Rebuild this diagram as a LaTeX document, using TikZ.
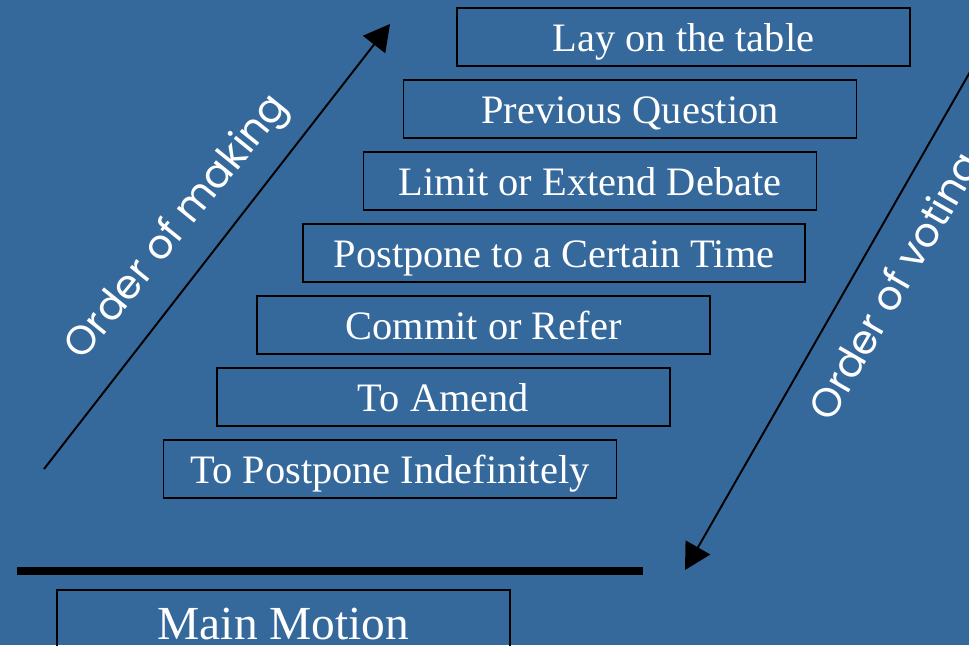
\documentclass[tikz,border=0pt]{standalone}
\usepackage{fontspec}
\setmainfont{Liberation Serif}
\newfontfamily\gothic{Poppins}
\usepackage{tikz}
\usetikzlibrary{arrows.meta, positioning}
\definecolor{slideblue}{RGB}{53, 104, 155}

\begin{document}
\begin{tikzpicture}[
  x=0.02cm, y=-0.02cm,
  motion/.style={rectangle, draw=black, line width=0.9pt, text=white,
                 minimum width=9.06cm, minimum height=1.16cm, inner sep=0pt,
                 text height=20pt, text depth=3pt,
                 font=\fontsize{23}{26}\selectfont},
  arr/.style={-{Triangle[length=0.52cm, width=0.56cm]}, line width=1.1pt, color=black},
  order/.style={text=white, font=\gothic\fontsize{23}{26}\selectfont}
]
\useasboundingbox[fill=slideblue] (0,0) rectangle (969,645);

\node[motion] (lay) at (683.5,37) {Lay on the table};
\node[motion] (prev) at (630,109) {Previous Question};
\node[motion] (limit) at (590,181) {Limit or Extend Debate};
\node[motion, minimum width=10.04cm] (post) at (554,253) {Postpone to a Certain Time};
\node[motion] (commit) at (483.5,325) {Commit or Refer};
\node[motion] (amend) at (443.5,397) {To Amend};
\node[motion] (indef) at (390,469) {To Postpone Indefinitely};
\node[motion, text height=25pt, text depth=2pt,
      font=\fontsize{27}{30}\selectfont] (main) at (283.5,619) {Main Motion};

\draw[line width=0.15cm] (17,571) -- (643,571);

\coordinate (mk0) at (44,469);
\coordinate (mk1) at (390,24);
\coordinate (vt0) at (990,37);
\coordinate (vt1) at (685,570);
\draw[arr] (mk0) -- (mk1);
\draw[arr] (vt0) -- (vt1);

\node[order, rotate=51] (making) at (178,228) {Order of making};
\node[order, rotate=60] (voting) at (898,288) {Order of voting};
\end{tikzpicture}
\end{document}
